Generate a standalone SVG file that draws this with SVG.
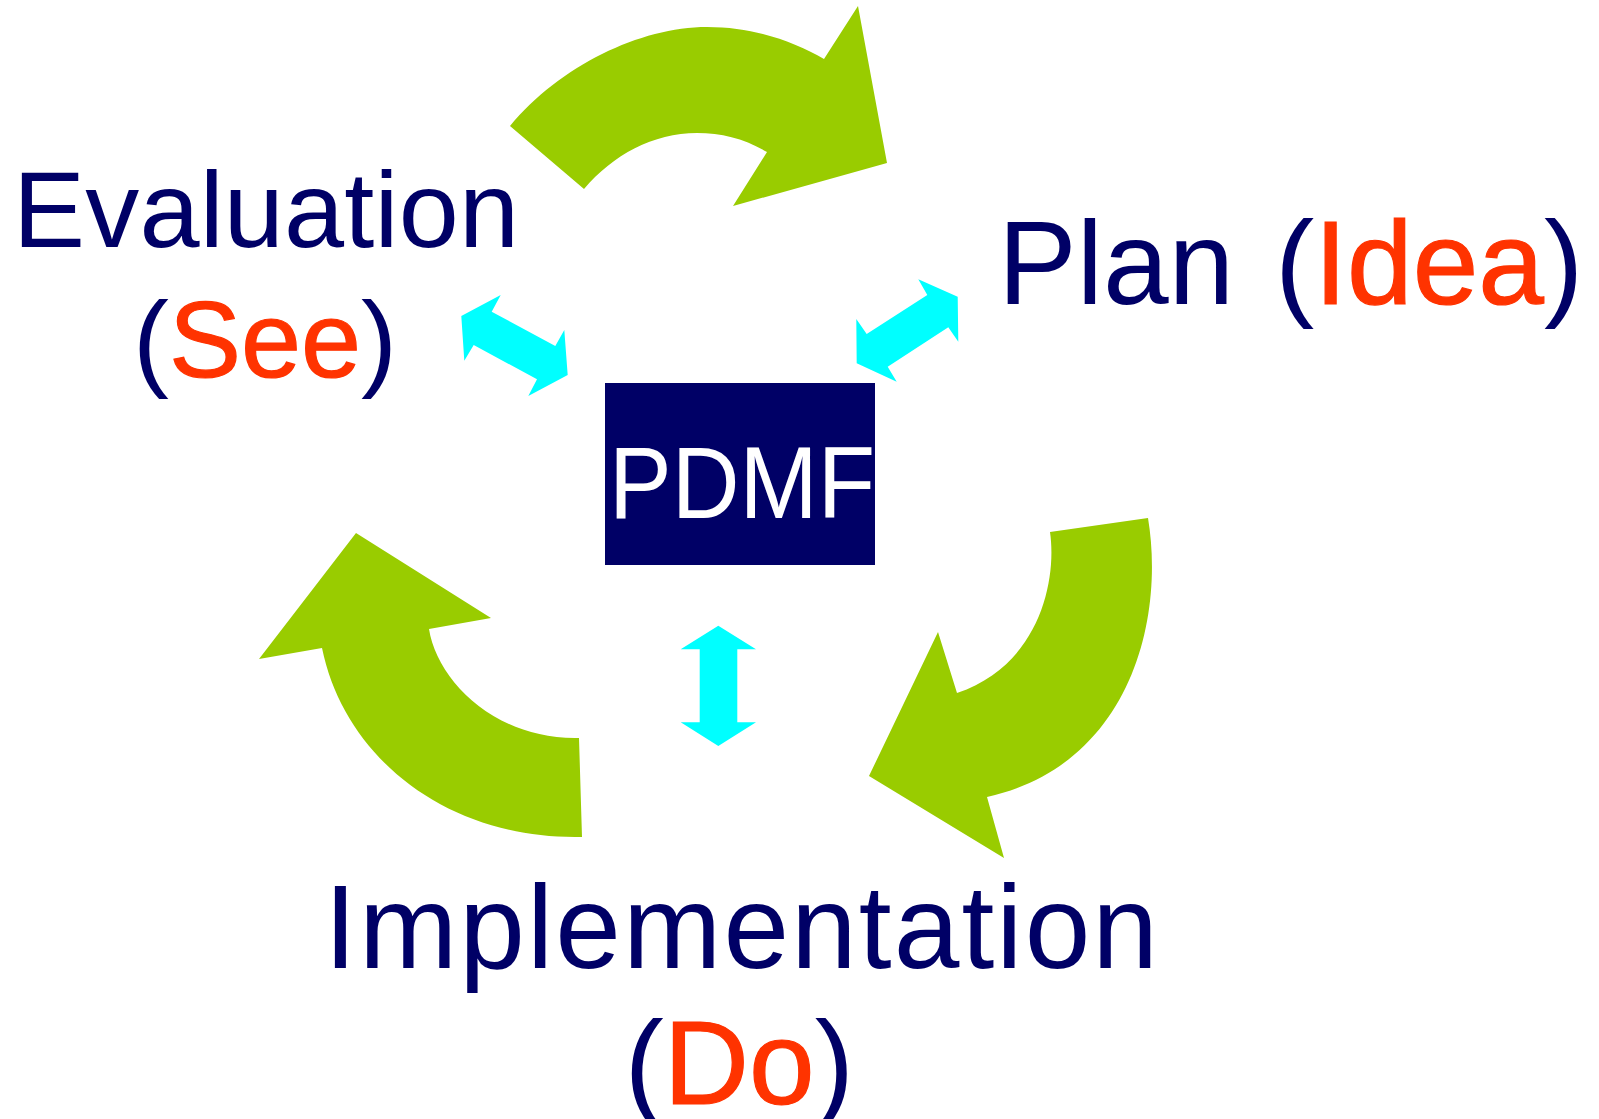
<svg xmlns="http://www.w3.org/2000/svg" width="1599" height="1119" viewBox="0 0 1599 1119">
<style>
.lbl{font-family:"Liberation Sans",Arial,sans-serif;fill:#000066}
.red{fill:#FF3300;stroke:#FF3300;stroke-width:1.2}
.cycle{fill:#99CC00}
.link{fill:#00FFFF}
.box{fill:#000066}
.pdmf{font-family:"Liberation Sans",Arial,sans-serif;fill:#FFFFFF}
</style>
<rect width="1599" height="1119" fill="#FFFFFF"/>
<g id="connectors">
  <path class="cycle" d="M510,126 C560,66 640,27 707,27 C755,27 795,42 824,59 L858,6 L887,163 L733,206 L767,152 C745,139 722,133 697,133 C653,133 613,155 584,189 Z"/>
  <path class="cycle" d="M1148,518 C1165,620 1130,765 987,797 L1004,858 L869,776 L938,632 L957,693 C1040,665 1057,580 1050,532 Z"/>
  <path class="cycle" d="M582,837 C450,840 345,760 322,648 L259,659 L356,533 L491,618 L429,629 C437,680 495,740 579,738 Z"/>
  <polygon class="link" points="461.3,316 500.7,295 491.7,311.7 555.3,346 564.3,330 567.7,375 528.3,396 537,379.3 473.7,345 464.3,360.7"/>
  <polygon class="link" points="927.3,295 918.3,279.3 957.7,296.7 958.3,341.7 948.3,327.3 887.7,366.7 896.7,381.7 856.7,363.3 856.3,319 866.7,334"/>
  <polygon class="link" points="718.3,625.7 756,649.3 737.3,649.3 737.3,722.3 756,722.3 718.3,746 680.7,722.3 699.7,722.3 699.7,649.3 680.7,649.3"/>
</g>
<g id="node-pdmf">
  <rect class="box" x="605" y="383" width="270" height="182"/>
  <text class="pdmf" x="609" y="518" font-size="102" textLength="266" lengthAdjust="spacingAndGlyphs">PDMF</text>
</g>
<g id="node-plan">
  <text class="lbl" x="998" y="304" font-size="118">Plan</text>
  <text class="lbl" x="1275" y="304" font-size="118">(<tspan class="red">Idea</tspan>)</text>
</g>
<g id="node-evaluation">
  <text class="lbl" x="13" y="246.7" font-size="108" textLength="506" lengthAdjust="spacing">Evaluation</text>
  <text class="lbl" x="265" y="376.7" font-size="108" text-anchor="middle">(<tspan class="red">See</tspan>)</text>
</g>
<g id="node-implementation">
  <text class="lbl" x="324" y="968.3" font-size="118" textLength="834" lengthAdjust="spacing">Implementation</text>
  <text class="lbl" x="624.5" y="1104" font-size="118">(<tspan class="red">Do</tspan>)</text>
</g>
</svg>
